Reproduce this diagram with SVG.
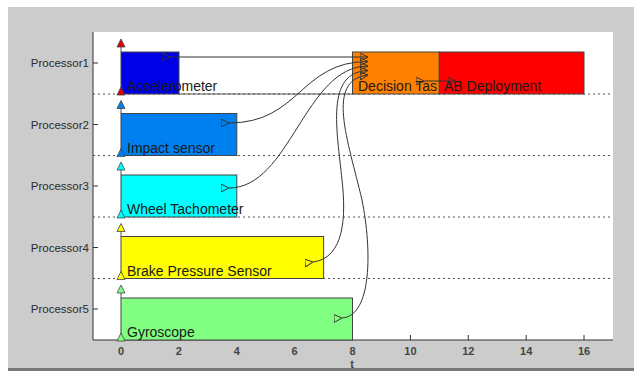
<svg xmlns="http://www.w3.org/2000/svg" width="634" height="371" viewBox="0 0 634 371">
<defs>
<style>
.ax{font-family:"Liberation Sans",Arial,sans-serif;font-size:11.5px;fill:#2a2a2a;}
.tk{font-family:"Liberation Sans",Arial,sans-serif;font-size:11px;font-weight:bold;fill:#444;text-anchor:middle;}
.lb{font-family:"Liberation Sans",Arial,sans-serif;font-size:14px;fill:#1a1a1a;}
.bar{stroke:#444;stroke-width:1;}
.dot{stroke:#555;stroke-width:1;stroke-dasharray:2 3;fill:none;}
.con{stroke:#333;stroke-width:1;fill:none;marker-start:url(#tri);marker-end:url(#tri);}
.tri{stroke:#444;stroke-width:0.8;}
</style>
<marker id="tri" viewBox="0 0 10 10" refX="10" refY="5" markerWidth="8" markerHeight="8" markerUnits="userSpaceOnUse" orient="auto">
<path d="M0,0 L10,5 L0,10 z" fill="none" stroke="#333" stroke-width="1.2"/>
</marker>
</defs>
<rect x="8" y="7" width="626" height="362" fill="#CCCCCC"/>
<rect x="8" y="368" width="626" height="3" fill="#777"/>
<rect x="93" y="32" width="520" height="308" fill="#FFFFFF"/>
<g id="grid">
<line class="dot" x1="93" y1="94" x2="613" y2="94"/>
<line class="dot" x1="93" y1="155.5" x2="613" y2="155.5"/>
<line class="dot" x1="93" y1="217" x2="613" y2="217"/>
<line class="dot" x1="93" y1="278.5" x2="613" y2="278.5"/>
<line x1="179" y1="94" x2="353" y2="94" stroke="#555" stroke-width="1"/>
</g>
<g id="axes" stroke="#333" stroke-width="1">
<line x1="93" y1="32" x2="93" y2="340"/>
<line x1="93" y1="340" x2="613" y2="340"/>
<line x1="93" y1="63" x2="98" y2="63"/>
<line x1="93" y1="124.5" x2="98" y2="124.5"/>
<line x1="93" y1="186" x2="98" y2="186"/>
<line x1="93" y1="247.5" x2="98" y2="247.5"/>
<line x1="93" y1="309" x2="98" y2="309"/>
<line x1="410.4" y1="335" x2="410.4" y2="340"/>
<line x1="468.3" y1="335" x2="468.3" y2="340"/>
<line x1="526.2" y1="335" x2="526.2" y2="340"/>
<line x1="584" y1="335" x2="584" y2="340"/>
</g>
<g id="axis-labels">
<text class="ax" x="89" y="67" text-anchor="end">Processor1</text>
<text class="ax" x="89" y="128.5" text-anchor="end">Processor2</text>
<text class="ax" x="89" y="190" text-anchor="end">Processor3</text>
<text class="ax" x="89" y="251.5" text-anchor="end">Processor4</text>
<text class="ax" x="89" y="313" text-anchor="end">Processor5</text>
<text class="tk" x="121" y="355">0</text>
<text class="tk" x="178.9" y="355">2</text>
<text class="tk" x="236.8" y="355">4</text>
<text class="tk" x="294.6" y="355">6</text>
<text class="tk" x="352.5" y="355">8</text>
<text class="tk" x="410.4" y="355">10</text>
<text class="tk" x="468.3" y="355">12</text>
<text class="tk" x="526.2" y="355">14</text>
<text class="tk" x="584" y="355">16</text>
<text class="tk" x="352" y="368">t</text>
</g>
<g id="accelerometer">
<rect class="bar" x="121" y="52" width="58" height="42" fill="#0000E8"/>
<text class="lb" x="127" y="91">Accelerometer</text>
</g>
<g id="impact-sensor">
<rect class="bar" x="121" y="113.5" width="115.8" height="42" fill="#0080F0"/>
<text class="lb" x="127" y="152.5">Impact sensor</text>
</g>
<g id="wheel-tachometer">
<rect class="bar" x="121" y="175" width="115.8" height="42" fill="#00FFFF"/>
<text class="lb" x="127" y="214">Wheel Tachometer</text>
</g>
<g id="brake-pressure-sensor">
<rect class="bar" x="121" y="236.5" width="202.6" height="42" fill="#FFFF00"/>
<text class="lb" x="127" y="275.5">Brake Pressure Sensor</text>
</g>
<g id="gyroscope">
<rect class="bar" x="121" y="298" width="231.5" height="42" fill="#80FF80"/>
<text class="lb" x="127" y="337">Gyroscope</text>
</g>
<g id="decision-task">
<rect class="bar" x="352.5" y="52" width="86.8" height="42" fill="#FF8000"/>
<text class="lb" x="358" y="91">Decision Tas</text>
</g>
<g id="ab-deployment">
<rect class="bar" x="439.3" y="52" width="144.7" height="42" fill="#FF0000"/>
<text class="lb" x="444" y="91">AB Deployment</text>
</g>
<g id="markers">
<line x1="121" y1="46" x2="121" y2="52" stroke="#555"/>
<line x1="121" y1="107.5" x2="121" y2="113.5" stroke="#555"/>
<line x1="121" y1="169" x2="121" y2="175" stroke="#555"/>
<line x1="121" y1="230.5" x2="121" y2="236.5" stroke="#555"/>
<line x1="121" y1="292" x2="121" y2="298" stroke="#555"/>
<path class="tri" d="M121,39 L125,47 L117,47 z" fill="#E00000"/>
<path class="tri" d="M121,87 L125,95 L117,95 z" fill="#E00000"/>
<path class="tri" d="M121,100.5 L125,108.5 L117,108.5 z" fill="#0080F0"/>
<path class="tri" d="M121,148.5 L125,156.5 L117,156.5 z" fill="#0080F0"/>
<path class="tri" d="M121,162 L125,170 L117,170 z" fill="#00FFFF"/>
<path class="tri" d="M121,210 L125,218 L117,218 z" fill="#00FFFF"/>
<path class="tri" d="M121,223.5 L125,231.5 L117,231.5 z" fill="#FFFF00"/>
<path class="tri" d="M121,271.5 L125,279.5 L117,279.5 z" fill="#FFFF00"/>
<path class="tri" d="M121,285 L125,293 L117,293 z" fill="#80FF80"/>
<path class="tri" d="M121,333 L125,341 L117,341 z" fill="#80FF80"/>
</g>
<g id="connectors">
<path class="con" d="M170,57 L368,57"/>
<path class="con" d="M229,123 C300,123 300,61.5 368,61.5"/>
<path class="con" d="M229,188 C290,188 305,66 368,66"/>
<path class="con" d="M313,262 C345,258 346,215 342,180 C337,130 325,72 368,70.5"/>
<path class="con" d="M342,318 C372,316 372,250 362,200 C348,140 325,80 368,75"/>
<path class="con" d="M424,81 L456,81"/>
</g>
</svg>
